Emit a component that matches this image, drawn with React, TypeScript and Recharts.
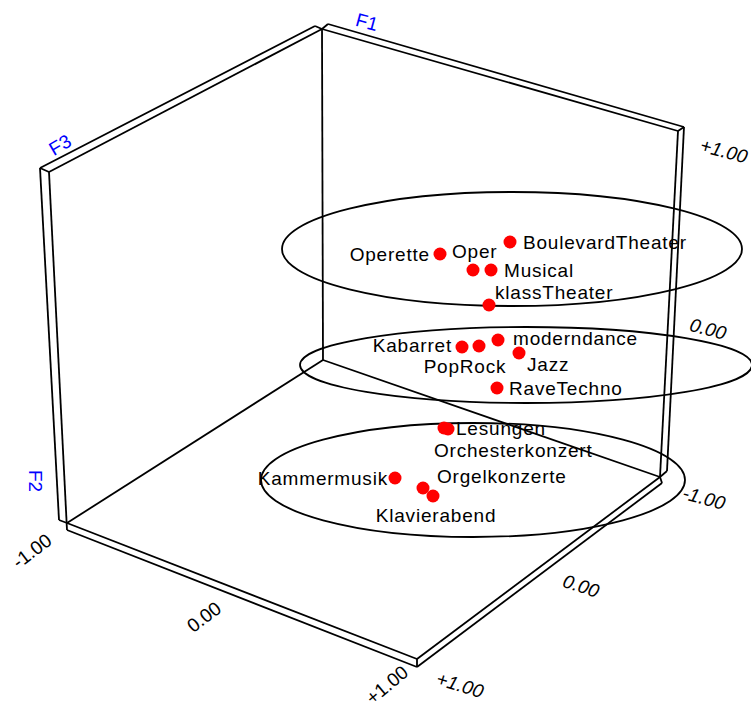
import { ScatterChart, Scatter, XAxis, YAxis, ReferenceLine, ReferenceDot } from 'recharts';

const W = 751;
const H = 707;

// projected positions of the points (screen units, y down)
const names = [
  'Operette', 'Oper', 'Musical', 'BoulevardTheater', 'klassTheater',
  'Kabarret', 'PopRock', 'moderndance', 'Jazz', 'RaveTechno',
  'Lesungen', 'Orchesterkonzert', 'Orgelkonzerte', 'Klavierabend', 'Kammermusik',
];
const px = [440, 473, 491, 510, 489, 462, 479, 498, 519, 497, 444, 448, 423, 433, 395];
const py = [254, 270, 270, 242, 305, 347, 346, 340, 353, 388, 428, 429, 488, 496, 478];

// cluster ellipses: centre and half axes
const ellCx = [512, 526, 473];
const ellCy = [249, 365, 480];
const ellRx = [230, 226, 212];
const ellRy = [57, 38, 57];

// box wireframe, each edge [x1, y1, x2, y2]
const edges = [
  // top left slab
  [40, 168, 315, 26], [49, 172, 322, 29], [40, 168, 49, 172], [315, 26, 322, 29],
  // top right slab
  [328, 24, 684, 127], [322, 29, 678, 131], [684, 127, 678, 131], [322, 29, 328, 24],
  // left upright
  [40, 168, 59, 520], [49, 172, 67, 530], [59, 520, 67, 523],
  // front left floor slab
  [67, 523, 417, 659], [67, 530, 417, 667], [417, 659, 417, 667],
  // front right floor slab
  [417, 659, 660, 477], [417, 667, 662, 483], [660, 477, 662, 483],
  // right upright
  [678, 131, 660, 477], [684, 127, 667, 471], [660, 477, 667, 471],
  // back edges
  [322, 29, 323, 360], [323, 360, 67, 523], [323, 360, 660, 477],
];

const tickText = ['+1.00', '0.00', '-1.00', '-1.00', '0.00', '+1.00', '+1.00', '0.00'];
const tickX = [724, 708, 704, 32, 204, 387, 460, 581];
const tickY = [151, 329, 498, 551, 617, 685, 685, 586];

const axisTitles = ['F1', 'F2', 'F3'];
const axisX = [367, 35, 60];
const axisY = [22, 481, 145];

// label placement and text angles (layout, not data)
const labelPos: Record<string, [number, number, string]> = {
  Operette: [-10, 0, 'end'],
  Oper: [-21, -19, 'start'],
  Musical: [13, 0, 'start'],
  BoulevardTheater: [13, 0, 'start'],
  klassTheater: [6, -13, 'start'],
  Kabarret: [-10, -2, 'end'],
  PopRock: [-14, 20, 'middle'],
  moderndance: [15, -2, 'start'],
  Jazz: [8, 11, 'start'],
  RaveTechno: [12, 0, 'start'],
  Lesungen: [12, 0, 'start'],
  Orchesterkonzert: [-14, 21, 'start'],
  Orgelkonzerte: [14, -12, 'start'],
  Klavierabend: [3, 19, 'middle'],
  Kammermusik: [-7, 0, 'end'],
};
const tickAngle = [15, 15, 15, -37, -37, -40, 17, 18];
const tickItalic = [true, true, true, false, false, false, true, true];
const axisAngle = [15, 90, -30];

const font = '"Liberation Sans", Arial, sans-serif';

const points = names.map((name, i) => ({ name, x: px[i], y: py[i] }));
const ticks = tickText.map((t, i) => ({ t, x: tickX[i], y: tickY[i], a: tickAngle[i], it: tickItalic[i] }));
const titles = axisTitles.map((t, i) => ({ t, x: axisX[i], y: axisY[i], a: axisAngle[i] }));

const Dot = (p: any) => <circle cx={p.cx} cy={p.cy} r={6.5} fill="#FF0000" />;

const PointLabel = (p: any) => {
  const [dx, dy, anchor] = labelPos[p.payload.name];
  return (
    <text x={p.cx + dx} y={p.cy + dy} textAnchor={anchor as any} dominantBaseline="central"
      fontFamily={font} fontSize={19} letterSpacing={0.8} fill="#000">
      {p.payload.name}
    </text>
  );
};

const TickLabel = (p: any) => (
  <text x={p.cx} y={p.cy} textAnchor="middle" dominantBaseline="central"
    transform={`rotate(${p.payload.a} ${p.cx} ${p.cy})`}
    fontFamily={font} fontSize={19} fontStyle={p.payload.it ? 'italic' : 'normal'} fill="#000">
    {p.payload.t}
  </text>
);

const TitleLabel = (p: any) => (
  <text x={p.cx} y={p.cy} textAnchor="middle" dominantBaseline="central"
    transform={`rotate(${p.payload.a} ${p.cx} ${p.cy})`}
    fontFamily={font} fontSize={19} fill="#0000FF">
    {p.payload.t}
  </text>
);

export default function App() {
  return (
    <div style={{ position: 'absolute', left: 0, top: 0, width: W, height: H, background: '#fff' }}>
      <ScatterChart width={W} height={H} margin={{ top: 0, right: 0, bottom: 0, left: 0 }}>
        <XAxis type="number" dataKey="x" domain={[0, W]} allowDataOverflow hide />
        <YAxis type="number" dataKey="y" domain={[0, H]} allowDataOverflow reversed hide />
        {edges.map((e, i) => (
          <ReferenceLine key={'e' + i} segment={[{ x: e[0], y: e[1] }, { x: e[2], y: e[3] }]}
            stroke="#000" strokeWidth={1.8} ifOverflow="visible" />
        ))}
        {ellCx.map((cx, i) => (
          <ReferenceDot key={'el' + i} x={cx} y={ellCy[i]} r={0} ifOverflow="visible"
            shape={(p: any) => (
              <ellipse cx={p.cx} cy={p.cy} rx={ellRx[i]} ry={ellRy[i]} fill="none" stroke="#000" strokeWidth={1.8} />
            )} />
        ))}
        <Scatter data={points} shape={Dot} isAnimationActive={false} />
        <Scatter data={points} shape={PointLabel} isAnimationActive={false} />
        <Scatter data={ticks} shape={TickLabel} isAnimationActive={false} />
        <Scatter data={titles} shape={TitleLabel} isAnimationActive={false} />
      </ScatterChart>
    </div>
  );
}
